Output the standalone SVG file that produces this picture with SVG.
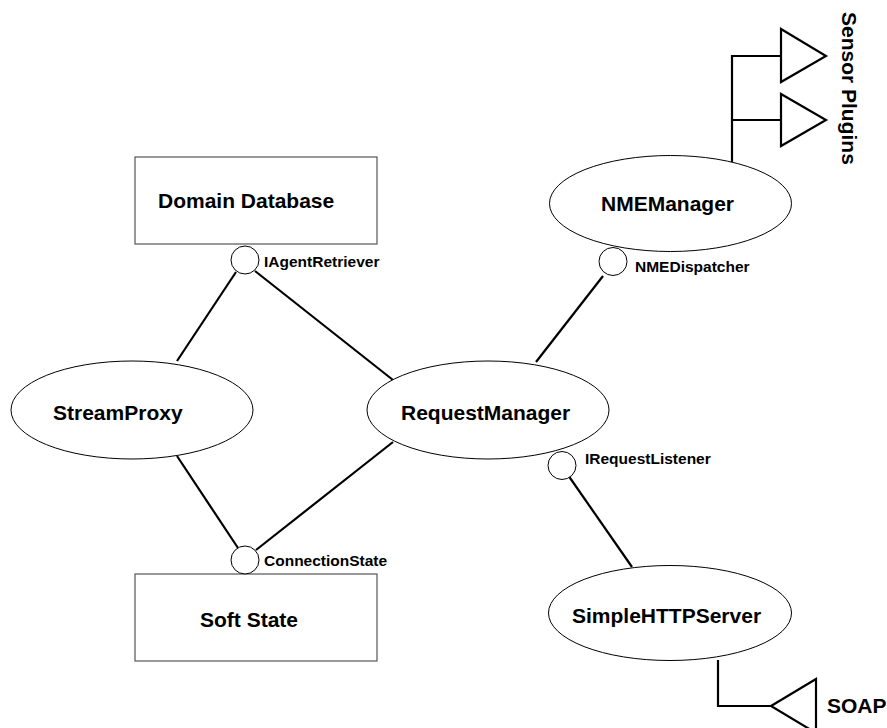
<svg xmlns="http://www.w3.org/2000/svg" width="887" height="728" viewBox="0 0 887 728">
<style>
  .box { fill: #fff; stroke: #555; stroke-width: 1.2; }
  .ell { fill: #fff; stroke: #000; stroke-width: 1; }
  .iface { fill: #fff; stroke: #000; stroke-width: 1; }
  .conn { fill: none; stroke: #000; stroke-width: 2.2; stroke-linecap: butt; }
  .port { fill: #fff; stroke: #000; stroke-width: 2.2; stroke-linejoin: miter; }
  .big { font-family: "Liberation Sans", Arial, sans-serif; font-weight: bold; font-size: 21px; fill: #000; }
  .small { font-family: "Liberation Sans", Arial, sans-serif; font-weight: bold; font-size: 15.5px; fill: #000; }
</style>
<rect width="887" height="728" fill="#fff"/>
<g id="connectors">
  <line class="conn" x1="236" y1="272" x2="177" y2="361"/>
  <line class="conn" x1="255" y1="271" x2="393" y2="380"/>
  <line class="conn" x1="177" y1="456" x2="238" y2="548"/>
  <line class="conn" x1="393" y1="442" x2="256" y2="550"/>
  <line class="conn" x1="603" y1="276" x2="536" y2="362"/>
  <line class="conn" x1="568" y1="475" x2="632" y2="567"/>
  <path class="conn" d="M732,162 V56 H781 M732,120 H781"/>
  <path class="conn" d="M718,660 V706 H771"/>
</g>
<g id="sensor-plugins">
  <polygon class="port" points="781,29 826,56 781,82"/>
  <polygon class="port" points="781,94 826,120 781,146"/>
  <text class="big" transform="translate(842,12) rotate(90)">Sensor Plugins</text>
</g>
<g id="soap">
  <polygon class="port" points="771,706 816,679 816,733"/>
  <text class="big" x="827" y="713">SOAP</text>
</g>
<g id="domain-database">
  <rect class="box" x="135" y="157" width="242" height="87"/>
  <text class="big" x="158" y="208">Domain Database</text>
</g>
<g id="soft-state">
  <rect class="box" x="135" y="574" width="242" height="87"/>
  <text class="big" x="200" y="627">Soft State</text>
</g>
<g id="stream-proxy">
  <ellipse class="ell" cx="132" cy="410" rx="121" ry="49"/>
  <text class="big" x="53" y="420">StreamProxy</text>
</g>
<g id="request-manager">
  <ellipse class="ell" cx="488" cy="410" rx="121" ry="49"/>
  <text class="big" x="401" y="420">RequestManager</text>
</g>
<g id="nme-manager">
  <ellipse class="ell" cx="670.5" cy="203.5" rx="121" ry="48"/>
  <text class="big" x="601" y="211">NMEManager</text>
</g>
<g id="simple-http-server">
  <ellipse class="ell" cx="670" cy="613" rx="121.5" ry="47.5"/>
  <text class="big" x="572" y="623">SimpleHTTPServer</text>
</g>
<g id="iagent-retriever">
  <circle class="iface" cx="245" cy="260" r="14"/>
  <text class="small" x="264" y="267">IAgentRetriever</text>
</g>
<g id="connection-state">
  <circle class="iface" cx="245" cy="560" r="14"/>
  <text class="small" x="264" y="566">ConnectionState</text>
</g>
<g id="nme-dispatcher">
  <circle class="iface" cx="613" cy="261.5" r="14"/>
  <text class="small" x="635" y="272">NMEDispatcher</text>
</g>
<g id="irequest-listener">
  <circle class="iface" cx="562" cy="465.5" r="14"/>
  <text class="small" x="585" y="464">IRequestListener</text>
</g>
</svg>
